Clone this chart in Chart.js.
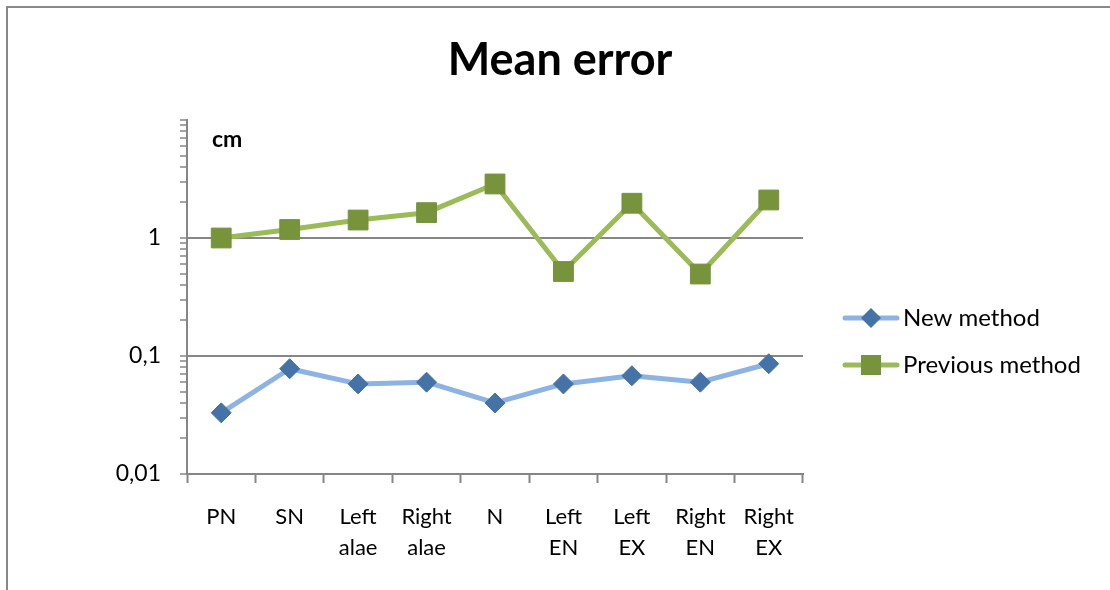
<!DOCTYPE html>
<html>
<head>
<meta charset="utf-8">
<script src="https://cdn.jsdelivr.net/npm/chart.js@4.4.1/dist/chart.umd.min.js"></script>
<style>
html, body { margin: 0; padding: 0; background: #fff; }
#wrap { position: relative; width: 1110px; height: 590px; overflow: hidden; }
#frame { position: absolute; left: 6px; top: 6px; width: 1200px; height: 700px;
         border-top: 2px solid #898989; border-left: 2px solid #898989; }
canvas { position: absolute; left: 0; top: 0; }
</style>
</head>
<body>
<div id="wrap">
  <div id="frame"></div>
  <canvas id="chart" width="1110" height="590"></canvas>
</div>
<script>
// data
const categories = [['PN'], ['SN'], ['Left', 'alae'], ['Right', 'alae'], ['N'],
                    ['Left', 'EN'], ['Left', 'EX'], ['Right', 'EN'], ['Right', 'EX']];
const newMethod = [0.033, 0.078, 0.058, 0.060, 0.040, 0.058, 0.068, 0.060, 0.086];
const previousMethod = [1.0, 1.18, 1.42, 1.64, 2.87, 0.52, 1.97, 0.495, 2.1];
const yLabels = [0.01, 0.1, 1];
const yMax = 10;

const FONT = 'Lato, "Open Sans", sans-serif';
const AXIS = '#868686';

function isLabel(v) {
    return yLabels.some(l => Math.abs(v - l) < l * 1e-6);
}

// title, unit and legend drawn on top
const decorations = {
    id: 'decorations',
    afterDraw(chart) {
        const ctx = chart.ctx;
        ctx.save();
        ctx.fillStyle = '#000';
        ctx.textBaseline = 'middle';
        ctx.textAlign = 'center';
        ctx.font = 'bold 45px ' + FONT;
        ctx.fillText('Mean error', 560, 60);

        ctx.textAlign = 'left';
        ctx.font = 'bold 23px ' + FONT;
        ctx.fillText('cm', 212, 140);

        const rows = [318, 365];
        chart.data.datasets.forEach((ds, i) => {
            const y = rows[i];
            ctx.strokeStyle = ds.borderColor;
            ctx.lineWidth = 5;
            ctx.lineCap = 'round';
            ctx.beginPath();
            ctx.moveTo(845, y);
            ctx.lineTo(897, y);
            ctx.stroke();
            ctx.fillStyle = ds.pointBackgroundColor;
            ctx.beginPath();
            if (ds.pointStyle === 'rectRot') {
                const r = 10;
                ctx.moveTo(871, y - r);
                ctx.lineTo(871 + r, y);
                ctx.lineTo(871, y + r);
                ctx.lineTo(871 - r, y);
                ctx.closePath();
            } else {
                ctx.rect(861, y - 10, 20, 20);
            }
            ctx.fill();
            ctx.fillStyle = '#000';
            ctx.font = '24px ' + FONT;
            ctx.fillText(ds.label, 903, y);
        });
        ctx.restore();
    }
};

new Chart(document.getElementById('chart'), {
    type: 'line',
    data: {
        labels: categories,
        datasets: [{
            label: 'New method',
            data: newMethod,
            borderColor: '#8DB3E2',
            borderWidth: 5,
            borderJoinStyle: 'round',
            borderCapStyle: 'round',
            tension: 0,
            pointStyle: 'rectRot',
            pointRadius: 10,
            pointBackgroundColor: '#4572A7',
            pointBorderColor: '#4572A7',
            pointBorderWidth: 1
        }, {
            label: 'Previous method',
            data: previousMethod,
            borderColor: '#9BBB59',
            borderWidth: 5,
            borderJoinStyle: 'round',
            borderCapStyle: 'round',
            tension: 0,
            pointStyle: 'rect',
            pointRadius: 14,
            pointBackgroundColor: '#77933C',
            pointBorderColor: '#77933C',
            pointBorderWidth: 1
        }]
    },
    options: {
        responsive: false,
        animation: false,
        layout: { padding: { top: 120, right: 307, left: 0, bottom: 0 } },
        plugins: { legend: { display: false }, title: { display: false }, tooltip: { enabled: false } },
        scales: {
            x: {
                offset: true,
                border: { color: AXIS, width: 2 },
                grid: { offset: true, drawOnChartArea: false, tickLength: 9, tickColor: AXIS, tickWidth: 2 },
                ticks: { color: '#000', padding: 19, maxRotation: 0, font: { family: FONT, size: 22, lineHeight: 1.4 } },
                afterFit(scale) { scale.height = 116; }
            },
            y: {
                type: 'logarithmic',
                min: yLabels[0],
                max: yMax,
                border: { color: AXIS, width: 2 },
                grid: {
                    color: ctx => (ctx.tick && isLabel(ctx.tick.value) && ctx.tick.value > yLabels[0]) ? AXIS : 'rgba(0,0,0,0)',
                    lineWidth: 2,
                    tickLength: 7,
                    tickColor: AXIS,
                    tickWidth: 1.5
                },
                ticks: {
                    color: '#000',
                    padding: 19,
                    autoSkip: false,
                    font: { family: FONT, size: 23 },
                    callback: v => isLabel(v) ? String(v).replace('.', ',') : ''
                },
                afterBuildTicks(scale) {
                    const ticks = [];
                    yLabels.forEach(d => {
                        for (let k = 1; k < 10; k++) ticks.push({ value: +(k * d).toPrecision(6) });
                    });
                    ticks.push({ value: yMax });
                    scale.ticks = ticks;
                },
                afterFit(scale) { scale.width = 187; }
            }
        }
    },
    plugins: [decorations]
});
</script>
</body>
</html>
